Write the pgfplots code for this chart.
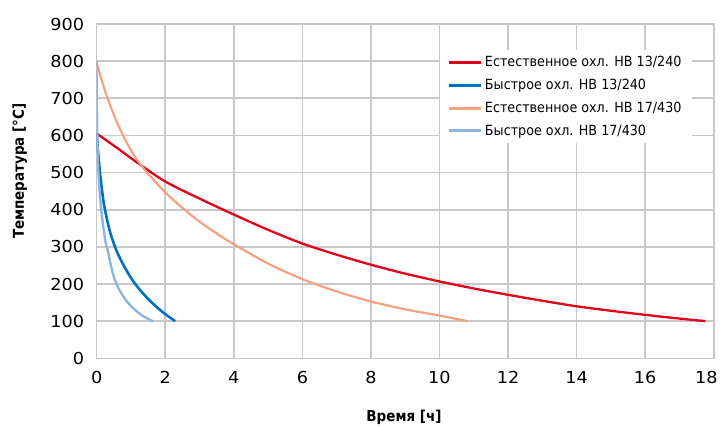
\documentclass[border=0pt]{standalone}
\usepackage{fontspec}
\setmainfont{DejaVu Sans}
\newfontfamily\tickfont[FakeStretch=1.07]{DejaVu Sans}
\newfontfamily\legfont[FakeStretch=0.91]{DejaVu Sans}
\newfontfamily\labfont[FakeStretch=0.9]{DejaVu Sans}
\usepackage{pgfplots}
\pgfplotsset{compat=1.18}

\definecolor{cRed}{RGB}{226,0,26}
\definecolor{cBlue}{RGB}{0,112,192}
\definecolor{cOrange}{RGB}{244,162,128}
\definecolor{cLBlue}{RGB}{142,180,227}
\definecolor{gridc}{RGB}{200,200,200}

\begin{document}
\begin{tikzpicture}
\begin{axis}[
  scale only axis,
  width=617pt, height=334.3pt,
  xmin=0, xmax=18, ymin=0, ymax=900,
  xtick={0,2,...,18},
  ytick={0,100,...,900},
  xticklabels={0,2,4,6,8,10,12,14,16,\kern8pt\makebox[0pt][r]{18}},
  major tick length=0pt,
  grid=major,
  major grid style={gridc, line width=1.6pt},
  axis line style={gridc, line width=1.6pt},
  /pgf/number format/assume math mode=true,
  tick label style={font=\tickfont\fontsize{16.5}{18}\selectfont, text=black},
  xticklabel style={yshift=-9.5pt},
  yticklabel style={xshift=-9pt},
  xlabel={Время [ч]},
  ylabel={Температура [°C]},
  every axis x label/.style={at={(rel axis cs:0.498,0)}, yshift=-59pt, anchor=center,
    font=\labfont\bfseries\fontsize{15}{17}\selectfont},
  every axis y label/.style={at={(rel axis cs:0,0.56)}, xshift=-77pt, rotate=90, anchor=center,
    font=\labfont\bfseries\fontsize{15}{17}\selectfont},
  legend style={at={(rel axis cs:0.556,0.922)}, anchor=north west, draw=none, fill=white,
    font=\legfont\fontsize{14}{16}\selectfont, inner xsep=8pt, inner ysep=4pt,
    row sep=7pt},
  legend cell align=left,
  legend image code/.code={\draw[#1, line width=3pt] (0pt,0pt) -- (32pt,0pt);},
]

% Естественное охлаждение, HB 13/240
\addplot[cRed, line width=2.3pt, smooth] coordinates {
  (0,605) (0.6,566) (1.21,525) (2,476) (3,430) (4,387) (5,346) (6,309)
  (7,279) (8,252) (9,228) (10,207) (11,188) (12,171) (13,155) (14,140)
  (15,128) (16,117) (17,107) (17.76,100)
};
\addlegendentry{Естественное охл. HB 13/240}

% Быстрое охлаждение, HB 13/240
\addplot[cBlue, line width=2.6pt, smooth] coordinates {
  (0,605) (0.03,567) (0.06,535) (0.1,497) (0.15,456) (0.21,416) (0.3,374)
  (0.4,337) (0.53,301) (0.65,275) (0.8,248) (0.95,224) (1.1,203) (1.3,180)
  (1.5,160) (1.75,138) (2.0,119) (2.29,100)
};
\addlegendentry{Быстрое охл. HB 13/240}

% Естественное охлаждение, HB 17/430
\addplot[cOrange, line width=2.2pt, smooth] coordinates {
  (0,795) (0.25,718) (0.5,656) (0.75,604) (1,560) (1.25,525) (1.5,497)
  (2,447) (2.5,405) (3,368) (3.5,336) (4,307) (5,255) (6,213) (7,180)
  (8,153) (9,132) (10,115) (10.83,100)
};
\addlegendentry{Естественное охл. HB 17/430}

% Быстрое охлаждение, HB 17/430
\addplot[cLBlue, line width=2.4pt, smooth, tension=0.4] coordinates {
  (0,800) (0.005,720) (0.01,660) (0.02,590) (0.04,520) (0.07,468) (0.1,432)
  (0.13,402) (0.17,370) (0.21,343) (0.25,318) (0.28,303) (0.31,295) (0.34,284)
  (0.39,260) (0.45,236) (0.52,214) (0.6,195) (0.7,178) (0.8,163) (0.9,151)
  (1.05,136) (1.2,124) (1.4,111) (1.64,100)
};
\addlegendentry{Быстрое охл. HB 17/430}

\end{axis}
\pgfresetboundingbox
\useasboundingbox (-96.7pt,-67.7pt) rectangle (625.3pt,358.3pt);
\end{tikzpicture}
\end{document}
